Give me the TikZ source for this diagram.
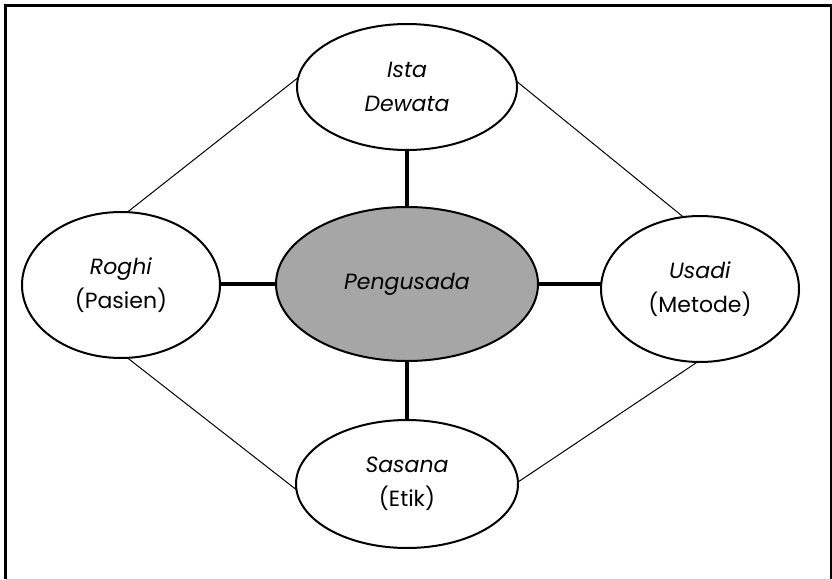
\documentclass[tikz,border=0pt]{standalone}
\usepackage{fontspec}
\setmainfont{Poppins}
\usetikzlibrary{shapes.geometric}
\definecolor{hubgray}{HTML}{A6A6A6}
\tikzset{
  oval/.style={ellipse, draw=black, line width=2pt, fill=white, inner sep=0pt, outer sep=0pt,
    align=center, font=\fontsize{22}{34}\selectfont},
  strong/.style={line width=3.2pt},
  weak/.style={line width=1pt},
}
\begin{document}
\begin{tikzpicture}[x=1pt,y=-1pt]
\useasboundingbox (0,0) rectangle (832,580);
\draw[line width=2.5pt] (5.5,579) -- (5.5,5.5) -- (831,5.5) -- (831,579);
\draw[line width=1pt, black!20] (5.5,579.5) -- (831,579.5);
\node[oval, minimum width=220pt, minimum height=126pt] (top) at (407,87) {\textit{Ista}\\\textit{Dewata}};
\node[oval, fill=hubgray, minimum width=262pt, minimum height=154pt] (hub) at (407,284) {\textit{Pengusada}};
\node[oval, minimum width=198pt, minimum height=146pt] (left) at (121,285) {\textit{Roghi}\\(Pasien)};
\node[oval, minimum width=198pt, minimum height=146pt] (right) at (700,289) {\textit{Usadi}\\(Metode)};
\node[oval, minimum width=222pt, minimum height=128pt] (bot) at (407,484) {\textit{Sasana}\\(Etik)};
\draw[strong] (hub.north) -- (top.south);
\draw[strong] (hub.west) -- (left.east|-hub.west);
\draw[strong] (hub.east) -- (right.west|-hub.east);
\draw[strong] (hub.south) -- (bot.north);
\draw[weak] (top.175) -- (left.85);
\draw[weak] (top.3) -- (right.103);
\draw[weak] (left.275) -- (bot.183);
\draw[weak] (bot.1) -- (right.268);
\end{tikzpicture}
\end{document}
